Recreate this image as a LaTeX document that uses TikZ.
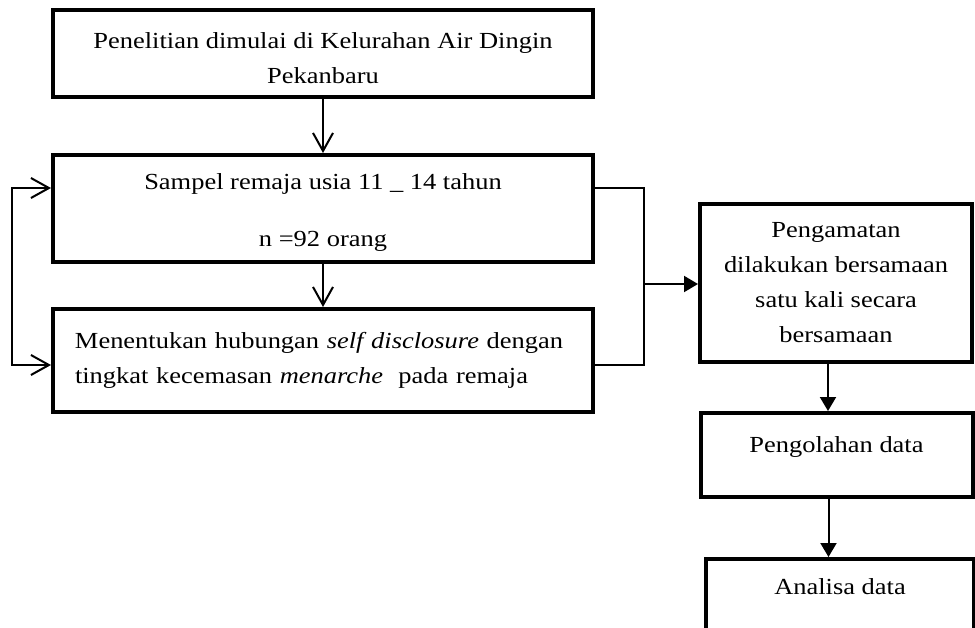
\documentclass[tikz,border=0pt]{standalone}
\usepackage{fontspec}
\setmainfont{Liberation Serif}[FakeStretch=1.15]
\usetikzlibrary{arrows.meta}

\begin{document}
\begin{tikzpicture}[%
    x=0.5pt, y=-0.5pt,          % one unit is one pixel of the page, y runs down
    ]
% -------------------------------------------------
% Box styles
\tikzset{
  node font=\fontsize{11.5pt}{17.5pt}\selectfont,
  base/.style={draw, rectangle, line width=2pt, inner sep=0pt, align=center},
  proc/.style={base, minimum width=270pt},
  side/.style={base, minimum width=136pt},
  textleft/.style={align=left, inner xsep=11pt, text width=248pt},
  toptext/.style={text depth=#1},
  % -------------------------------------------------
  % Connector line styles
  vopen/.style={draw, line width=1pt, -{Straight Barb[length=9pt,width=10pt]}},
  vfill/.style={draw, line width=1pt, -{Triangle[length=7pt,width=8pt]}},
  link/.style={draw, line width=0.8pt},
}
% taller first line pushes the text of a box down a little
\newcommand{\droptext}[1]{\rule{0pt}{#1}}
\clip (0,0) rectangle (975,627);
% -------------------------------------------------
% Left column
\node [proc, minimum height=43.5pt] (p1) at (323,53.5)
  {\droptext{13pt}Penelitian dimulai di Kelurahan Air Dingin\\Pekanbaru};
\node [proc, minimum height=53.5pt] (p2) at (323,208.5)
  {\droptext{12pt}Sampel remaja usia 11 \_ 14 tahun\\[11pt]n =92 orang};
\node [proc, textleft, minimum height=51.5pt] (p3) at (323,360.5)
  {Menentukan hubungan \textit{self disclosure} dengan\\tingkat kecemasan \textit{menarche}~ pada remaja};
% -------------------------------------------------
% Right column
\node [side, minimum height=79pt] (q1) at (836,283)
  {Pengamatan\\dilakukan bersamaan\\satu kali secara\\bersamaan};
\node [side, minimum height=42pt, toptext=10pt] (q2) at (836.5,455) {Pengolahan data};
\node [side, minimum height=42pt, minimum width=134pt, toptext=14pt] (q3) at (840,601) {Analisa data};
% -------------------------------------------------
% Corners of the connecting lines
\coordinate (fb2) at (12,188);
\coordinate (fb3) at (12,365);
\coordinate (brk) at (644,284);
% -------------------------------------------------
% Straight north-south connections
\draw [vopen] (p1) -- (p2);
\draw [vopen] (p2) -- (p3);
\draw [vfill] ([xshift=-4pt]q1.south) -- ([xshift=-4pt]q1.south |- q2.north);
\draw [vfill] ([xshift=-4pt]q2.south) -- ([xshift=-4pt]q2.south |- q3.north);
% -------------------------------------------------
% Loop on the left, bracket on the right
\draw [link, {Straight Barb[length=9pt,width=10pt,line width=1pt]}-{Straight Barb[length=9pt,width=10pt,line width=1pt]}]
  (p2.west |- fb2) -- (fb2) -- (fb3) -- (p3.west |- fb3);
\draw [link] (p2.east |- fb2) -| (brk) |- (p3.east |- fb3);
\draw [vfill] (brk) -- (q1.west |- brk);
\end{tikzpicture}
\end{document}
